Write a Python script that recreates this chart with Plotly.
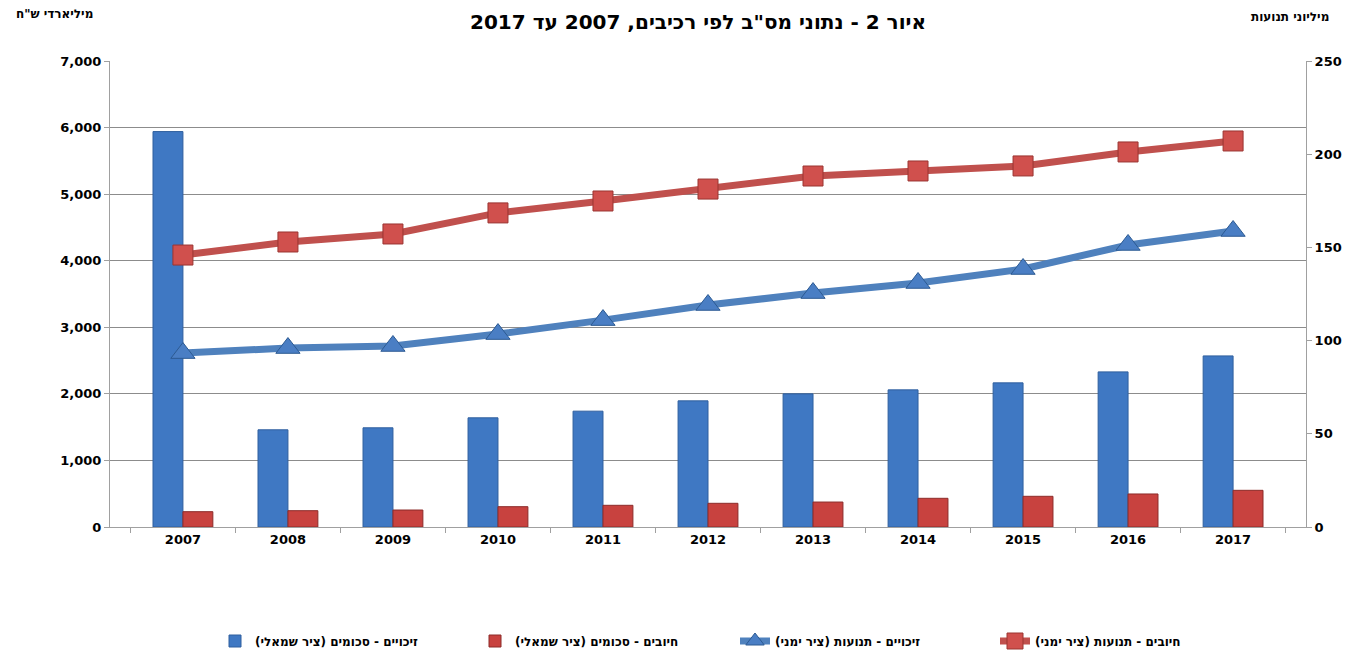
import plotly.graph_objects as go

years = ["2007", "2008", "2009", "2010", "2011", "2012", "2013", "2014", "2015", "2016", "2017"]
credit_amounts = [5940, 1460, 1490, 1640, 1740, 1895, 2000, 2060, 2165, 2330, 2570]
debit_amounts = [230, 245, 255, 305, 326, 356, 375, 431, 461, 496, 551]
credit_tx = [93.3, 96.0, 97.1, 103.5, 111.0, 119.1, 125.5, 130.9, 138.4, 151.3, 158.8]
debit_tx = [145.9, 152.9, 157.2, 168.5, 174.9, 181.3, 188.3, 191.0, 193.7, 201.2, 207.1]

names = [
    "זיכויים - סכומים (ציר שמאלי)",
    "חיובים - סכומים (ציר שמאלי)",
    "זיכויים - תנועות (ציר ימני)",
    "חיובים - תנועות (ציר ימני)",
]

BLUE = "#3f78c3"
RED = "#c8423f"
LBLUE = "#4f81bd"
LRED = "#c0504d"

fig = go.Figure()
fig.add_trace(go.Bar(x=years, y=credit_amounts, name=names[0],
                     marker=dict(color=BLUE, line=dict(color="#2f5f9e", width=1))))
fig.add_trace(go.Bar(x=years, y=debit_amounts, name=names[1],
                     marker=dict(color=RED, line=dict(color="#8c2b29", width=1))))
fig.add_trace(go.Scatter(x=years, y=credit_tx, name=names[2], yaxis="y2",
                         mode="lines+markers",
                         line=dict(color=LBLUE, width=7),
                         marker=dict(symbol="triangle-up", size=21, color="#4a7ec4",
                                     line=dict(color="#2c5a92", width=1))))
fig.add_trace(go.Scatter(x=years, y=debit_tx, name=names[3], yaxis="y2",
                         mode="lines+markers",
                         line=dict(color=LRED, width=7),
                         marker=dict(symbol="square", size=20, color="#d0504d",
                                     line=dict(color="#9a3431", width=1))))

font_family = "DejaVu Sans, Verdana, Arial, sans-serif"
tick_font = dict(size=13, family=font_family, weight="bold", color="#000000")

W, H = 1346, 647

fig.update_layout(
    width=W, height=H,
    margin=dict(l=102, r=48, t=53, b=128, autoexpand=False),
    paper_bgcolor="white", plot_bgcolor="white",
    barmode="group", bargap=0.43, bargroupgap=0,
    font=dict(family=font_family, size=12, color="#000000"),
    title=dict(text="<b>איור 2 - נתוני מס\"ב לפי רכיבים, 2007 עד 2017</b>",
               x=690 / W, xanchor="center", y=1 - 7 / H, yanchor="top",
               xref="container", yref="container",
               font=dict(size=20, family=font_family, color="#000000")),
    xaxis=dict(showline=True, linecolor="#a0a0a0", linewidth=1,
               ticks="outside", tickson="boundaries", ticklen=5, tickcolor="#a0a0a0",
               tickfont=tick_font, showgrid=False, automargin=False),
    yaxis=dict(range=[0, 7000], dtick=1000, tickformat=",",
               showline=True, linecolor="#a0a0a0", linewidth=1,
               ticks="outside", ticklen=5, tickcolor="#a0a0a0",
               showgrid=True, gridcolor="#8c8c8c", gridwidth=1,
               zeroline=False, tickfont=tick_font, automargin=False),
    yaxis2=dict(range=[0, 250], dtick=50, overlaying="y", side="right",
                showline=True, linecolor="#a0a0a0", linewidth=1,
                ticks="outside", ticklen=5, tickcolor="#a0a0a0",
                showgrid=False, zeroline=False,
                tickfont=tick_font, automargin=False),
    legend=dict(orientation="h", xref="container", yref="container",
                x=727 / W, xanchor="center", y=1 - 633 / H, yanchor="middle",
                entrywidth=215, entrywidthmode="pixels",
                font=dict(size=12, family=font_family, weight="bold"),
                traceorder="normal"),
    showlegend=True,
)

fig.add_annotation(text="<b>מיליארדי ש\"ח</b>", x=-0.046, y=1.1009,
                   xref="paper", yref="paper", xanchor="center", yanchor="middle",
                   showarrow=False, font=dict(size=12, family=font_family))
fig.add_annotation(text="<b>מיליוני תנועות</b>", x=0.9866, y=1.0944,
                   xref="paper", yref="paper", xanchor="center", yanchor="middle",
                   showarrow=False, font=dict(size=12, family=font_family))

fig.write_html("out.html")
